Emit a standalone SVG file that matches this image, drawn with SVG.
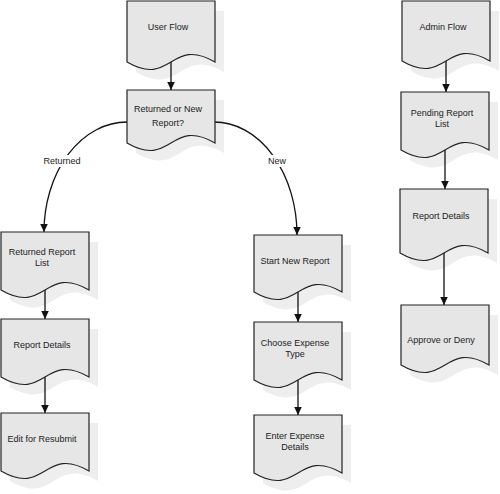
<svg xmlns="http://www.w3.org/2000/svg" width="500" height="494" viewBox="0 0 500 494">
<style>
.bg{fill:#ffffff}
.sh{fill:#eeeeee;stroke:none}
.bx{fill:#e6e6e6;stroke:#222;stroke-width:1.2}
.t{font-family:"Liberation Sans",Arial,sans-serif;font-size:9px;fill:#222;text-anchor:middle}
.c{fill:none;stroke:#111;stroke-width:1.3}
.lb{fill:#ffffff}
</style>
<defs>
<marker id="ah" markerUnits="userSpaceOnUse" markerWidth="8" markerHeight="9" refX="4" refY="8.5" orient="auto-start-reverse" viewBox="0 0 8 9">
<path d="M0,0 L8,0 L4,8.5 Z" fill="#111" transform="rotate(0)"/>
</marker>
<marker id="av" markerUnits="userSpaceOnUse" markerWidth="9" markerHeight="8" refX="8.5" refY="4" orient="auto" viewBox="0 0 9 8">
<path d="M0,0 L8.5,4 L0,8 Z" fill="#111"/>
</marker>
</defs>
<rect class="bg" x="0" y="0" width="500" height="494"/>

<g id="shadows">
<path class="sh" d="M136,11 H224 V72 C179,46 181,98 136,72 Z"/>
<path class="sh" d="M136,100 H224 V153 C179,127 181,179 136,153 Z"/>
<path class="sh" d="M411,11 H499 V71 C454,45 456,97 411,71 Z"/>
<path class="sh" d="M410,102 H498 V160 C453,134 455,186 410,160 Z"/>
<path class="sh" d="M409,199 H497 V263 C452,237 454,289 409,263 Z"/>
<path class="sh" d="M410,315 H498 V375 C453,349 455,401 410,375 Z"/>
<path class="sh" d="M10,242 H98 V300 C53,274 55,326 10,300 Z"/>
<path class="sh" d="M10,329 H98 V387 C53,361 55,413 10,387 Z"/>
<path class="sh" d="M10,423 H98 V481 C53,455 55,507 10,481 Z"/>
<path class="sh" d="M263,245 H351 V302 C306,276 308,328 263,302 Z"/>
<path class="sh" d="M263,332 H351 V390 C306,364 308,416 263,390 Z"/>
<path class="sh" d="M263,425 H351 V483 C306,457 308,509 263,483 Z"/>
</g>

<g id="connectors">
<line class="c" x1="171" y1="61" x2="171" y2="90" marker-end="url(#av)"/>
<path class="c" d="M127,122 A83,110 0 0 0 44,232" marker-end="url(#av)"/>
<path class="c" d="M214,122 A83,113 0 0 1 297,235" marker-end="url(#av)"/>
<line class="c" x1="45" y1="290" x2="45" y2="319" marker-end="url(#av)"/>
<line class="c" x1="45" y1="377" x2="45" y2="413" marker-end="url(#av)"/>
<line class="c" x1="298" y1="292" x2="298" y2="322" marker-end="url(#av)"/>
<line class="c" x1="298" y1="380" x2="298" y2="415" marker-end="url(#av)"/>
<line class="c" x1="446" y1="61" x2="446" y2="92" marker-end="url(#av)"/>
<line class="c" x1="445" y1="150" x2="445" y2="189" marker-end="url(#av)"/>
<line class="c" x1="444" y1="253" x2="444" y2="305" marker-end="url(#av)"/>
<rect class="lb" x="42" y="155" width="41" height="12"/>
<text class="t" x="62" y="164">Returned</text>
<rect class="lb" x="266" y="155" width="22" height="12"/>
<text class="t" x="277" y="164">New</text>
</g>

<g id="n-user-flow">
<path class="bx" d="M127,1 H215 V62 C170,36 172,88 127,62 Z"/>
<text class="t" x="168" y="30">User Flow</text>
</g>
<g id="n-returned-or-new">
<path class="bx" d="M127,90 H215 V143 C170,117 172,169 127,143 Z"/>
<text class="t" x="168" y="112">Returned or New</text>
<text class="t" x="168" y="126">Report?</text>
</g>
<g id="n-admin-flow">
<path class="bx" d="M402,1 H490 V61 C445,35 447,87 402,61 Z"/>
<text class="t" x="443" y="30">Admin Flow</text>
</g>
<g id="n-pending">
<path class="bx" d="M401,92 H489 V150 C444,124 446,176 401,150 Z"/>
<text class="t" x="442" y="116">Pending Report</text>
<text class="t" x="442" y="127">List</text>
</g>
<g id="n-report-details-r">
<path class="bx" d="M400,189 H488 V253 C443,227 445,279 400,253 Z"/>
<text class="t" x="441" y="219">Report Details</text>
</g>
<g id="n-approve">
<path class="bx" d="M401,305 H489 V365 C444,339 446,391 401,365 Z"/>
<text class="t" x="441" y="343">Approve or Deny</text>
</g>
<g id="n-returned-list">
<path class="bx" d="M1,232 H89 V290 C44,264 46,316 1,290 Z"/>
<text class="t" x="42" y="255">Returned Report</text>
<text class="t" x="42" y="266">List</text>
</g>
<g id="n-report-details-l">
<path class="bx" d="M1,319 H89 V377 C44,351 46,403 1,377 Z"/>
<text class="t" x="42" y="348">Report Details</text>
</g>
<g id="n-edit">
<path class="bx" d="M1,413 H89 V471 C44,445 46,497 1,471 Z"/>
<text class="t" x="42" y="442">Edit for Resubmit</text>
</g>
<g id="n-start-new">
<path class="bx" d="M254,235 H342 V292 C297,266 299,318 254,292 Z"/>
<text class="t" x="295" y="264">Start New Report</text>
</g>
<g id="n-choose-type">
<path class="bx" d="M254,322 H342 V380 C297,354 299,406 254,380 Z"/>
<text class="t" x="295" y="346">Choose Expense</text>
<text class="t" x="295" y="357">Type</text>
</g>
<g id="n-enter-details">
<path class="bx" d="M254,415 H342 V473 C297,447 299,499 254,473 Z"/>
<text class="t" x="295" y="439">Enter Expense</text>
<text class="t" x="295" y="450">Details</text>
</g>
</svg>
